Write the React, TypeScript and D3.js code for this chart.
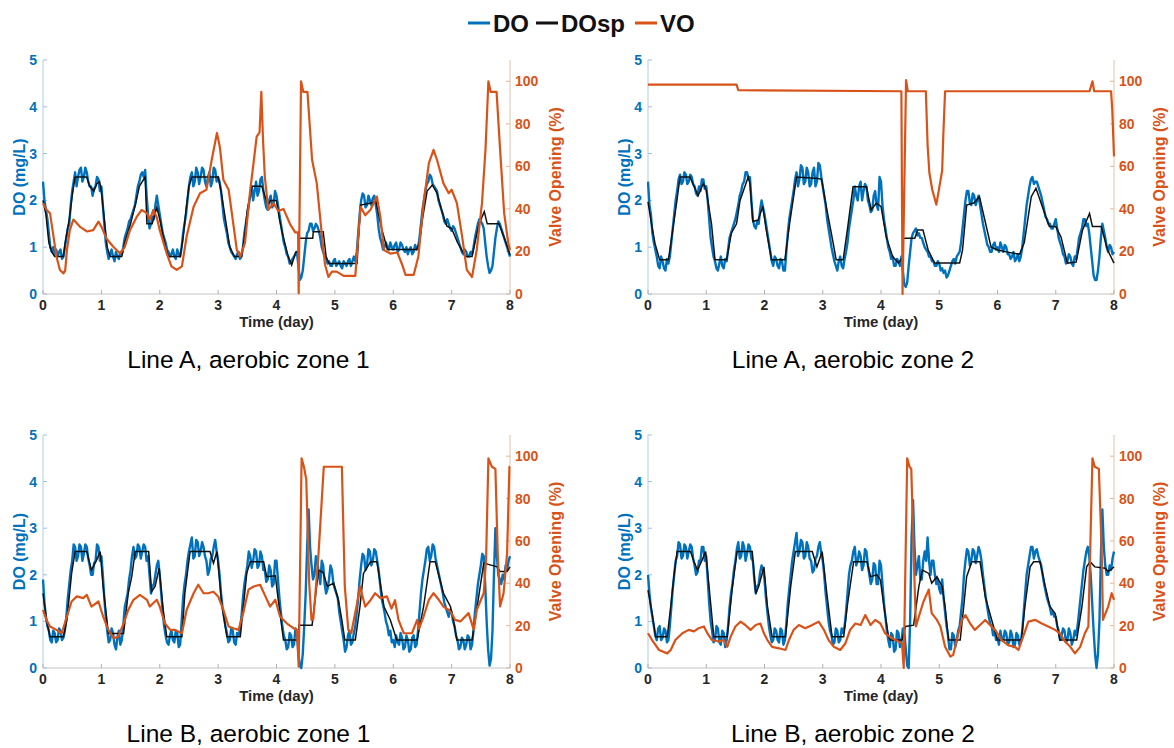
import React from "react";
import * as d3 from "d3";

// ---------- tick labels ----------
const dayTicks = [0, 1, 2, 3, 4, 5, 6, 7, 8];
const doTicks = [0, 1, 2, 3, 4, 5];
const voTicks = [0, 20, 40, 60, 80, 100];

// ---------- DO (mg/L), sampled every 0.025 day from day 0 to day 8 (one row per day) ----------
const doA1 = [
  2.4, 2.0, 1.8, 1.6, 1.3, 1.0, 0.9, 1.0, 0.85, 0.95, 0.8, 0.9, 0.95, 0.75, 0.8, 1.0, 1.2, 1.4, 1.5, 1.9, 2.2, 2.4, 2.6, 2.3, 2.5, 2.65, 2.7, 2.4, 2.5, 2.7, 2.6, 2.4, 2.3, 2.3, 2.1, 2.25, 2.3, 2.5, 2.45, 2.2,
  2.3, 1.9, 1.5, 1.1, 0.9, 0.75, 0.85, 0.95, 0.8, 0.7, 0.9, 0.8, 0.75, 0.9, 0.85, 1.0, 1.2, 1.3, 1.4, 1.55, 1.6, 1.7, 1.8, 1.9, 2.1, 2.3, 2.4, 2.55, 2.6, 2.5, 2.65, 2.1, 1.7, 1.4, 1.5, 1.65, 1.6, 1.9, 2.1, 1.9,
  1.7, 1.5, 1.3, 1.2, 1.1, 0.95, 0.9, 0.8, 0.85, 0.95, 0.8, 0.75, 0.95, 0.85, 0.8, 1.0, 1.3, 1.5, 1.7, 2.0, 2.3, 2.5, 2.6, 2.3, 2.4, 2.7, 2.6, 2.35, 2.5, 2.7, 2.65, 2.4, 2.3, 2.5, 2.6, 2.3, 2.4, 2.7, 2.65, 2.4,
  2.5, 2.4, 2.2, 1.9, 1.6, 1.45, 1.3, 1.1, 1.0, 0.9, 0.85, 0.8, 0.75, 0.85, 0.9, 0.75, 0.8, 1.0, 1.3, 1.5, 1.7, 1.9, 2.1, 2.3, 2.0, 2.2, 2.4, 2.1, 2.2, 2.45, 2.5, 2.2, 2.0, 1.85, 1.8, 2.0, 2.1, 1.85, 1.9, 2.2,
  2.1, 1.9, 1.7, 1.5, 1.3, 1.1, 1.0, 0.85, 0.8, 0.65, 0.7, 0.75, 0.8, 0.85, 0.9, 0.6, 0.3, 0.35, 0.5, 0.8, 1.1, 1.3, 1.35, 1.5, 1.5, 1.35, 1.4, 1.5, 1.45, 1.35, 1.2, 1.0, 0.9, 0.8, 0.75, 0.65, 0.7, 0.6, 0.6, 0.7,
  0.75, 0.6, 0.65, 0.7, 0.6, 0.55, 0.7, 0.65, 0.6, 0.7, 0.75, 0.6, 0.7, 0.8, 0.7, 0.9, 1.3, 1.7, 2.0, 2.15, 2.1, 1.85, 1.9, 2.1, 2.0, 1.9, 2.05, 2.1, 1.9, 1.7, 1.4, 1.2, 1.1, 0.95, 1.0, 1.1, 1.0, 0.95, 1.1, 1.0,
  0.95, 1.05, 1.1, 0.9, 0.95, 1.1, 1.05, 0.95, 0.9, 1.0, 0.85, 0.95, 1.0, 0.85, 0.9, 1.05, 0.95, 1.0, 1.2, 1.5, 1.8, 2.0, 2.2, 2.35, 2.4, 2.55, 2.5, 2.35, 2.3, 2.25, 2.2, 2.0, 1.9, 1.8, 1.7, 1.55, 1.5, 1.6, 1.5, 1.4,
  1.35, 1.45, 1.4, 1.3, 1.2, 1.1, 1.0, 0.9, 0.85, 0.95, 0.9, 0.8, 0.8, 0.9, 0.85, 1.0, 1.2, 1.35, 1.5, 1.6, 1.55, 1.5, 1.4, 1.1, 0.8, 0.6, 0.45, 0.5, 0.6, 0.9, 1.2, 1.4, 1.55, 1.5, 1.4, 1.3, 1.2, 1.1, 1.0, 0.9,
  0.8,
];
const doA2 = [
  2.4, 1.9, 1.7, 1.3, 1.1, 0.95, 0.8, 0.6, 0.55, 0.8, 0.7, 0.55, 0.5, 0.75, 0.65, 0.8, 1.1, 1.4, 1.7, 2.0, 2.2, 2.45, 2.55, 2.35, 2.4, 2.6, 2.55, 2.35, 2.4, 2.55, 2.5, 2.35, 2.3, 2.15, 2.1, 2.3, 2.2, 2.45, 2.45, 2.25,
  2.3, 2.0, 1.6, 1.2, 1.0, 0.8, 0.7, 0.55, 0.5, 0.65, 0.8, 0.6, 0.55, 0.75, 0.7, 0.95, 1.2, 1.3, 1.4, 1.5, 1.6, 1.75, 1.9, 2.1, 2.2, 2.35, 2.4, 2.6, 2.6, 2.45, 2.5, 2.0, 1.6, 1.45, 1.4, 1.55, 1.5, 1.8, 2.0, 1.85,
  1.7, 1.5, 1.3, 1.1, 0.9, 0.7, 0.6, 0.8, 0.75, 0.6, 0.55, 0.75, 0.7, 0.5, 0.5, 0.9, 1.3, 1.6, 1.8, 2.0, 2.2, 2.45, 2.6, 2.3, 2.45, 2.75, 2.7, 2.35, 2.4, 2.7, 2.6, 2.3, 2.35, 2.6, 2.7, 2.3, 2.4, 2.8, 2.75, 2.5,
  2.3, 2.1, 1.9, 1.6, 1.4, 1.2, 1.0, 0.85, 0.7, 0.6, 0.5, 0.7, 0.8, 0.6, 0.55, 0.75, 0.9, 1.1, 1.4, 1.6, 1.8, 2.0, 2.3, 2.1, 2.0, 2.3, 2.4, 2.0, 2.2, 2.35, 2.3, 2.0, 1.9, 1.75, 1.8, 2.1, 2.2, 1.9, 1.8, 2.5,
  2.4, 1.9, 1.6, 1.4, 1.2, 1.0, 0.9, 0.75, 0.8, 0.6, 0.6, 0.75, 0.7, 0.6, 0.8, 0.5, 0.2, 0.15, 0.25, 0.6, 0.9, 1.2, 1.3, 1.35, 1.4, 1.25, 1.3, 1.2, 1.2, 1.1, 1.0, 0.95, 0.9, 0.8, 0.8, 0.7, 0.7, 0.6, 0.6, 0.7,
  0.65, 0.5, 0.55, 0.45, 0.5, 0.35, 0.4, 0.5, 0.6, 0.7, 0.75, 0.65, 0.8, 0.85, 0.9, 1.1, 1.4, 1.7, 2.0, 2.2, 2.2, 1.95, 1.9, 2.15, 2.1, 1.9, 2.0, 2.1, 1.9, 1.7, 1.5, 1.35, 1.2, 1.05, 1.0, 0.9, 0.9, 1.05, 1.1, 0.95,
  1.0, 0.9, 1.1, 1.0, 0.9, 1.05, 1.0, 0.85, 0.85, 0.75, 0.8, 0.9, 0.7, 0.75, 0.85, 0.7, 0.8, 1.0, 1.3, 1.6, 1.9, 2.1, 2.3, 2.45, 2.5, 2.35, 2.4, 2.4, 2.3, 2.2, 2.1, 1.95, 1.8, 1.65, 1.6, 1.5, 1.5, 1.4, 1.4, 1.5,
  1.6, 1.4, 1.2, 1.1, 1.0, 0.85, 0.8, 0.65, 0.7, 0.85, 0.8, 0.65, 0.6, 0.8, 0.75, 0.95, 1.2, 1.3, 1.4, 1.6, 1.6, 1.45, 1.5, 1.3, 1.0, 0.7, 0.4, 0.3, 0.3, 0.5, 0.8, 1.2, 1.5, 1.35, 1.2, 1.0, 0.9, 1.05, 1.0, 0.85,
  0.9,
];
const doB1 = [
  1.9, 1.4, 1.1, 0.9, 0.8, 0.6, 0.55, 0.8, 0.75, 0.55, 0.6, 0.85, 0.8, 0.6, 0.65, 0.8, 1.1, 1.5, 1.8, 2.1, 2.3, 2.65, 2.6, 2.3, 2.4, 2.65, 2.6, 2.3, 2.45, 2.65, 2.6, 2.35, 2.2, 2.0, 2.0, 2.25, 2.3, 2.65, 2.6, 2.3,
  2.4, 2.0, 1.5, 1.1, 0.8, 0.55, 0.6, 0.85, 0.75, 0.5, 0.4, 0.65, 0.8, 0.5, 0.6, 0.9, 1.3, 1.45, 1.6, 1.9, 2.1, 2.4, 2.6, 2.35, 2.4, 2.65, 2.6, 2.35, 2.5, 2.65, 2.6, 2.3, 2.4, 2.0, 1.6, 1.75, 1.8, 2.0, 2.2, 2.3,
  2.0, 1.6, 1.2, 0.9, 0.7, 0.55, 0.5, 0.7, 0.8, 0.6, 0.55, 0.8, 0.75, 0.45, 0.5, 1.0, 1.5, 1.8, 2.0, 2.3, 2.5, 2.65, 2.8, 2.35, 2.4, 2.75, 2.7, 2.4, 2.5, 2.7, 2.6, 2.4, 2.3, 2.0, 2.1, 2.35, 2.4, 2.6, 2.75, 2.5,
  2.3, 2.0, 1.6, 1.3, 1.1, 0.9, 0.75, 0.55, 0.6, 0.85, 0.8, 0.55, 0.5, 0.75, 0.7, 0.85, 1.1, 1.5, 1.8, 2.0, 2.2, 2.5, 2.4, 2.15, 2.3, 2.55, 2.5, 2.15, 2.2, 2.5, 2.4, 2.1, 2.1, 1.85, 1.9, 2.2, 2.1, 1.75, 1.8, 2.3,
  2.3, 1.9, 1.5, 1.2, 0.9, 0.7, 0.6, 0.4, 0.45, 0.75, 0.7, 0.45, 0.5, 0.85, 0.8, 0.3, 0.05, 0.0, 0.3, 0.9, 1.6, 2.6, 3.4, 2.6, 2.2, 1.9, 2.0, 2.4, 2.3, 2.0, 1.8, 2.3, 2.2, 1.8, 1.6, 1.7, 1.9, 2.2, 2.1, 1.8,
  1.7, 1.6, 1.5, 1.2, 1.0, 0.8, 0.6, 0.35, 0.45, 0.7, 0.8, 0.5, 0.55, 0.75, 0.9, 1.2, 1.5, 1.9, 2.2, 2.45, 2.4, 2.1, 2.2, 2.55, 2.5, 2.2, 2.3, 2.55, 2.5, 2.3, 2.1, 1.8, 1.5, 1.35, 1.2, 1.0, 0.9, 0.7, 0.8, 0.55,
  0.6, 0.45, 0.7, 0.55, 0.5, 0.75, 0.65, 0.4, 0.45, 0.7, 0.6, 0.35, 0.4, 0.65, 0.7, 0.45, 0.5, 0.8, 1.2, 1.6, 1.9, 2.1, 2.3, 2.55, 2.6, 2.3, 2.4, 2.65, 2.6, 2.35, 2.2, 2.05, 1.9, 1.75, 1.6, 1.4, 1.3, 1.2, 1.1, 1.25,
  1.2, 1.0, 0.9, 0.7, 0.6, 0.4, 0.45, 0.65, 0.6, 0.4, 0.5, 0.7, 0.65, 0.4, 0.5, 0.8, 1.2, 1.5, 1.8, 2.0, 2.2, 2.45, 2.4, 1.8, 1.0, 0.4, 0.05, 0.2, 0.8, 2.0, 3.0, 2.4, 2.0, 1.9, 1.8, 2.0, 1.9, 2.2, 2.1, 2.3,
  2.4,
];
const doB2 = [
  2.0, 1.6, 1.3, 1.1, 0.9, 0.7, 0.6, 0.85, 0.9, 0.6, 0.65, 0.85, 0.8, 0.55, 0.6, 0.9, 1.3, 1.7, 2.0, 2.3, 2.4, 2.7, 2.65, 2.35, 2.4, 2.65, 2.6, 2.35, 2.5, 2.65, 2.6, 2.35, 2.2, 2.0, 2.05, 2.3, 2.3, 2.6, 2.6, 2.3,
  2.4, 1.9, 1.4, 1.0, 0.8, 0.55, 0.6, 0.9, 0.85, 0.55, 0.5, 0.8, 0.75, 0.45, 0.6, 0.9, 1.3, 1.6, 1.8, 2.1, 2.3, 2.55, 2.7, 2.35, 2.4, 2.7, 2.6, 2.3, 2.45, 2.65, 2.6, 2.35, 2.3, 1.9, 1.6, 1.75, 1.8, 2.05, 2.2, 2.1,
  1.9, 1.5, 1.2, 0.9, 0.7, 0.55, 0.6, 0.85, 0.8, 0.6, 0.55, 0.85, 0.8, 0.5, 0.6, 0.95, 1.4, 1.7, 2.0, 2.3, 2.5, 2.7, 2.9, 2.4, 2.5, 2.75, 2.7, 2.35, 2.4, 2.7, 2.6, 2.35, 2.3, 2.05, 2.1, 2.35, 2.4, 2.6, 2.7, 2.45,
  2.3, 2.0, 1.6, 1.3, 1.0, 0.8, 0.7, 0.5, 0.55, 0.85, 0.8, 0.55, 0.6, 0.85, 0.75, 0.9, 1.2, 1.6, 2.0, 2.2, 2.3, 2.5, 2.6, 2.2, 2.3, 2.5, 2.4, 2.1, 2.2, 2.55, 2.5, 2.2, 2.0, 1.8, 1.9, 2.25, 2.2, 1.8, 1.8, 2.3,
  2.2, 1.8, 1.4, 1.1, 0.8, 0.6, 0.45, 0.75, 0.7, 0.35, 0.4, 0.8, 0.75, 0.45, 0.55, 0.85, 0.8, 0.4, 0.05, 0.0, 1.0, 2.8, 3.6, 2.6, 2.0, 2.2, 2.4, 1.9, 1.9, 2.3, 2.5, 2.3, 2.8, 2.3, 2.0, 2.3, 2.3, 2.0, 1.8, 1.9,
  1.7, 1.6, 1.9, 1.5, 1.2, 0.9, 0.7, 0.4, 0.4, 0.75, 0.7, 0.45, 0.6, 0.8, 0.9, 1.2, 1.5, 2.0, 2.3, 2.55, 2.5, 2.2, 2.3, 2.55, 2.5, 2.25, 2.4, 2.6, 2.5, 2.3, 2.0, 1.75, 1.5, 1.3, 1.1, 0.95, 0.9, 0.7, 0.8, 0.6,
  0.65, 0.5, 0.8, 0.6, 0.6, 0.8, 0.75, 0.5, 0.55, 0.8, 0.7, 0.45, 0.5, 0.75, 0.7, 0.5, 0.55, 0.8, 1.2, 1.6, 2.0, 2.2, 2.4, 2.6, 2.6, 2.35, 2.5, 2.55, 2.4, 2.3, 2.2, 2.0, 1.8, 1.65, 1.5, 1.4, 1.3, 1.15, 1.2, 1.1,
  1.1, 0.9, 0.8, 0.6, 0.7, 0.85, 0.8, 0.55, 0.6, 0.85, 0.75, 0.5, 0.6, 0.8, 0.7, 0.9, 1.2, 1.5, 1.8, 2.1, 2.3, 2.5, 2.6, 2.4, 2.0, 1.4, 0.8, 0.3, 0.0, 0.3, 1.0, 2.4, 3.4, 2.6, 2.2, 2.0, 2.0, 2.2, 2.1, 2.35,
  2.5,
];

// ---------- DO setpoint (day, mg/L) ----------
const spA1 = [
  [0, 2.0], [0.05, 1.7], [0.1, 1.1], [0.15, 0.9], [0.2, 0.8], [0.35, 0.8], [0.38, 1.1], [0.45, 1.6], [0.5, 2.1], [0.55, 2.5],
  [0.75, 2.5], [0.8, 2.3], [0.87, 2.2], [0.92, 2.35], [0.97, 2.4], [1.0, 2.2], [1.05, 1.6], [1.1, 1.0], [1.15, 0.8], [1.35, 0.8],
  [1.4, 1.1], [1.5, 1.5], [1.6, 2.0], [1.65, 2.3], [1.75, 2.5], [1.78, 1.5], [1.87, 1.5], [1.95, 1.85], [2.0, 1.6], [2.05, 1.3],
  [2.1, 1.0], [2.15, 0.8], [2.35, 0.8], [2.4, 1.2], [2.45, 1.8], [2.5, 2.3], [2.55, 2.5], [3.0, 2.5], [3.05, 2.2], [3.1, 1.8],
  [3.15, 1.4], [3.2, 1.0], [3.28, 0.8], [3.4, 0.8], [3.45, 1.2], [3.5, 1.8], [3.58, 2.3], [3.75, 2.3], [3.8, 2.1], [3.85, 1.9],
  [3.9, 2.0], [4.0, 2.0], [4.05, 1.6], [4.1, 1.3], [4.2, 0.8], [4.26, 0.62], [4.33, 0.9], [4.38, 0.9], [4.38, 1.19], [4.62, 1.19],
  [4.63, 1.33], [4.8, 1.33], [4.85, 0.8], [4.9, 0.65], [5.38, 0.65], [5.4, 1.1], [5.44, 1.9], [5.65, 1.95], [5.7, 2.0], [5.8, 1.4],
  [5.9, 0.95], [6.4, 0.95], [6.45, 1.1], [6.5, 1.6], [6.58, 2.2], [6.67, 2.33], [6.75, 2.15], [6.85, 1.7], [6.92, 1.45], [7.0, 1.4],
  [7.1, 1.1], [7.24, 0.8], [7.35, 0.8], [7.4, 1.1], [7.47, 1.5], [7.56, 1.76], [7.61, 1.5], [7.81, 1.5], [7.9, 1.2], [7.96, 1.0],
  [8.0, 0.83],
];
const spA2 = [
  [0, 1.97], [0.06, 1.5], [0.12, 1.08], [0.2, 0.73], [0.35, 0.73], [0.4, 1.15], [0.49, 1.94], [0.55, 2.5], [0.72, 2.5], [0.78, 2.33],
  [0.86, 2.1], [0.95, 2.36], [1.0, 2.22], [1.09, 1.5], [1.15, 0.73], [1.35, 0.73], [1.43, 1.3], [1.52, 1.5], [1.58, 2.0], [1.72, 2.5],
  [1.75, 2.36], [1.8, 1.55], [1.89, 1.58], [1.97, 1.87], [2.03, 1.37], [2.12, 0.73], [2.35, 0.73], [2.43, 1.5], [2.55, 2.5], [2.92, 2.47],
  [2.98, 2.45], [3.06, 1.87], [3.18, 1.08], [3.23, 0.73], [3.35, 0.73], [3.43, 1.44], [3.52, 2.29], [3.75, 2.29], [3.83, 1.8], [3.92, 1.94],
  [4.0, 1.87], [4.09, 1.22], [4.2, 0.8], [4.3, 0.66], [4.38, 0.8], [4.38, 1.19], [4.58, 1.19], [4.63, 1.37], [4.72, 1.37], [4.81, 0.94],
  [4.92, 0.66], [5.35, 0.66], [5.4, 0.94], [5.47, 1.9], [5.6, 1.95], [5.69, 2.08], [5.89, 1.0], [6.0, 0.94], [6.15, 0.9], [6.38, 0.85],
  [6.46, 1.1], [6.58, 2.08], [6.66, 2.26], [6.83, 1.65], [6.89, 1.44], [7.0, 1.44], [7.09, 1.22], [7.2, 0.66], [7.35, 0.68], [7.46, 1.37],
  [7.58, 1.72], [7.63, 1.44], [7.78, 1.44], [7.89, 0.94], [8.0, 0.66],
];
const spB1 = [
  [0, 1.6], [0.06, 1.03], [0.12, 0.67], [0.35, 0.67], [0.41, 1.03], [0.49, 2.03], [0.55, 2.5], [0.75, 2.5], [0.83, 2.1], [0.92, 2.32],
  [0.98, 2.5], [1.03, 1.75], [1.12, 0.74], [1.38, 0.74], [1.46, 1.6], [1.52, 1.96], [1.58, 2.5], [1.81, 2.5], [1.86, 1.64], [1.92, 1.75],
  [1.99, 2.14], [2.06, 1.24], [2.12, 0.67], [2.38, 0.67], [2.43, 1.6], [2.52, 2.5], [2.86, 2.5], [2.92, 2.25], [2.98, 2.5], [3.06, 1.39],
  [3.15, 0.67], [3.38, 0.67], [3.49, 2.03], [3.55, 2.28], [3.78, 2.28], [3.83, 1.96], [3.98, 1.98], [4.03, 1.46], [4.12, 0.6], [4.38, 0.6],
  [4.38, 0.92], [4.61, 0.92], [4.72, 2.1], [4.8, 2.05], [4.87, 1.75], [4.98, 1.82], [5.06, 1.46], [5.12, 1.03], [5.17, 0.6], [5.35, 0.6],
  [5.43, 1.32], [5.49, 2.03], [5.61, 2.28], [5.72, 2.28], [5.84, 1.32], [5.95, 1.03], [6.06, 0.6], [6.41, 0.6], [6.52, 1.32], [6.63, 2.28],
  [6.72, 2.28], [6.86, 1.6], [6.98, 1.32], [7.03, 1.03], [7.09, 0.6], [7.35, 0.6], [7.46, 1.5], [7.55, 2.25], [7.78, 2.17], [7.83, 2.07],
  [7.95, 2.07], [8.0, 2.17],
];
const spB2 = [
  [0, 1.67], [0.07, 1.17], [0.13, 0.67], [0.33, 0.67], [0.39, 1.32], [0.45, 2.03], [0.5, 2.5], [0.73, 2.5], [0.79, 2.28], [0.85, 2.1],
  [0.93, 2.32], [0.99, 2.5], [1.07, 1.46], [1.13, 0.67], [1.36, 0.67], [1.45, 1.75], [1.53, 2.5], [1.79, 2.5], [1.85, 1.6], [1.9, 1.75],
  [1.99, 2.17], [2.05, 1.32], [2.13, 0.67], [2.36, 0.67], [2.45, 1.75], [2.53, 2.5], [2.82, 2.5], [2.9, 2.17], [2.99, 2.5], [3.07, 1.6],
  [3.16, 0.67], [3.36, 0.67], [3.42, 1.32], [3.53, 2.28], [3.76, 2.28], [3.82, 1.96], [3.93, 2.0], [3.99, 1.89], [4.05, 1.32], [4.13, 0.67],
  [4.16, 0.6], [4.36, 0.6], [4.42, 0.89], [4.56, 0.92], [4.65, 1.75], [4.71, 2.1], [4.82, 2.03], [4.87, 1.82], [4.96, 1.96], [5.05, 1.75],
  [5.1, 1.32], [5.16, 0.6], [5.36, 0.6], [5.42, 1.32], [5.47, 1.96], [5.56, 2.28], [5.7, 2.28], [5.79, 1.53], [5.9, 1.03], [6.0, 0.6],
  [6.41, 0.6], [6.47, 1.32], [6.56, 2.17], [6.62, 2.28], [6.73, 2.28], [6.82, 1.75], [6.9, 1.32], [6.99, 1.17], [7.07, 0.6], [7.36, 0.6],
  [7.45, 1.32], [7.53, 2.17], [7.59, 2.28], [7.67, 2.17], [7.85, 2.14], [7.9, 2.07], [8.0, 2.17],
];

// ---------- Valve opening (day, %) ----------
const voA1 = [
  [0, 42.7], [0.06, 39.6], [0.12, 38], [0.18, 27], [0.23, 17.6], [0.29, 11.3], [0.35, 9.7], [0.38, 11], [0.41, 20.7], [0.46, 30],
  [0.52, 35], [0.63, 31.7], [0.75, 29.4], [0.86, 30], [0.95, 34], [1.0, 31.7], [1.09, 26], [1.2, 22.3], [1.32, 19], [1.4, 22],
  [1.49, 30], [1.6, 36], [1.69, 39.5], [1.78, 38], [1.83, 35], [1.89, 39.5], [1.95, 36], [2.0, 30], [2.12, 19], [2.2, 13],
  [2.29, 11.3], [2.38, 13], [2.46, 27], [2.58, 41], [2.69, 47.4], [2.8, 49], [2.89, 63], [2.98, 75.7], [3.03, 69], [3.09, 53.7],
  [3.18, 49], [3.26, 33], [3.32, 20.7], [3.38, 17.6], [3.46, 24], [3.55, 49], [3.6, 60], [3.66, 74], [3.71, 76], [3.74, 95],
  [3.77, 72], [3.8, 55], [3.86, 39.6], [3.95, 42.7], [4.03, 39], [4.12, 40], [4.23, 33], [4.32, 29], [4.37, 29], [4.38, 0.3],
  [4.42, 100], [4.46, 95], [4.53, 95], [4.61, 63], [4.69, 52], [4.78, 27], [4.83, 14], [4.89, 8], [4.95, 10.5], [5.03, 10.5],
  [5.15, 8.5], [5.35, 8.5], [5.44, 41], [5.52, 37], [5.61, 39.6], [5.72, 45.8], [5.78, 36], [5.84, 20.7], [5.95, 19], [6.07, 19.5],
  [6.15, 14], [6.21, 9], [6.35, 9], [6.43, 17.6], [6.52, 42.7], [6.61, 61.5], [6.69, 67.8], [6.75, 63], [6.86, 52], [6.95, 47.4],
  [7.0, 49], [7.09, 42.7], [7.18, 27], [7.26, 11.3], [7.35, 8], [7.43, 20.7], [7.52, 42.7], [7.58, 67.8], [7.63, 100], [7.67, 95],
  [7.77, 95], [7.83, 68], [7.9, 38], [7.97, 24], [8.0, 20.7],
];
const voA2 = [
  [0, 98.4], [1.52, 98.4], [1.55, 95.8], [4.35, 95.3], [4.37, 0], [4.43, 100.5], [4.46, 95.3], [4.77, 95.3], [4.8, 70], [4.83, 57],
  [4.88, 49], [4.95, 42], [5.0, 50], [5.05, 58], [5.07, 75], [5.1, 95.3], [7.58, 95.3], [7.63, 100], [7.66, 95.3], [7.95, 95.3],
  [7.97, 86.7], [8.0, 64.7],
];
const voB1 = [
  [0, 27.4], [0.06, 22.7], [0.12, 19.6], [0.23, 18], [0.32, 16.4], [0.41, 24.3], [0.49, 31.4], [0.58, 33.8], [0.69, 33], [0.75, 34.5],
  [0.83, 29], [0.95, 31.4], [1.03, 24.3], [1.12, 18], [1.21, 14], [1.29, 14.8], [1.38, 21], [1.46, 27.4], [1.55, 32.2], [1.66, 34.5],
  [1.78, 32.2], [1.83, 29], [1.95, 32.2], [2.0, 29], [2.09, 21], [2.18, 18], [2.26, 18], [2.38, 16.4], [2.46, 27.4], [2.58, 35.3],
  [2.66, 39.3], [2.75, 35.3], [2.83, 35.3], [2.92, 36], [3.0, 33.8], [3.09, 27.4], [3.18, 19.6], [3.26, 18.8], [3.35, 18], [3.43, 25.9],
  [3.52, 37], [3.61, 38.5], [3.72, 39.3], [3.81, 33.8], [3.89, 29], [3.98, 32.2], [4.06, 24.3], [4.18, 21], [4.29, 18.8], [4.35, 18],
  [4.38, 0.6], [4.43, 99], [4.47, 95], [4.51, 89], [4.56, 40], [4.6, 22.7], [4.63, 23], [4.66, 33], [4.72, 54], [4.81, 95],
  [5.12, 95], [5.17, 38.5], [5.23, 18], [5.28, 16.4], [5.37, 29], [5.43, 38.5], [5.52, 29], [5.61, 32], [5.69, 35.3], [5.78, 33],
  [5.89, 33.8], [5.97, 28], [6.03, 32], [6.09, 22.7], [6.18, 16.4], [6.32, 16.4], [6.41, 22.7], [6.44, 18.5], [6.52, 24.3], [6.61, 32.2],
  [6.69, 35.3], [6.78, 32.2], [6.86, 29], [6.95, 27.4], [7.0, 25.9], [7.06, 22.7], [7.15, 22], [7.29, 25.9], [7.38, 18], [7.43, 27.4],
  [7.49, 31.4], [7.55, 35.3], [7.59, 51], [7.63, 99], [7.69, 95], [7.75, 94], [7.79, 54], [7.83, 29], [7.89, 35.3], [7.95, 54],
  [7.99, 95], [8.0, 95],
];
const voB2 = [
  [0, 16.4], [0.07, 13.2], [0.19, 8.5], [0.33, 6.9], [0.39, 8.5], [0.47, 13.2], [0.59, 16.4], [0.7, 18], [0.79, 17.3], [0.87, 18.8],
  [0.96, 19.6], [1.02, 16.4], [1.1, 13.2], [1.22, 12.5], [1.3, 13.2], [1.36, 10], [1.42, 14.8], [1.5, 19.6], [1.59, 21.9], [1.67, 20.3],
  [1.76, 18], [1.85, 20.3], [1.93, 21], [1.99, 16.4], [2.05, 13.2], [2.13, 10], [2.25, 9.3], [2.36, 8.5], [2.42, 13.2], [2.5, 18],
  [2.59, 20.3], [2.7, 18.8], [2.82, 20.3], [2.93, 21.9], [3.02, 18], [3.1, 13.2], [3.19, 10], [3.3, 8.5], [3.39, 11.7], [3.47, 18],
  [3.56, 21], [3.65, 20.3], [3.73, 25], [3.82, 20.3], [3.9, 22.7], [3.99, 21], [4.07, 16.4], [4.19, 14], [4.3, 12.5], [4.36, 11.7],
  [4.39, 0], [4.45, 99], [4.49, 95], [4.52, 94], [4.56, 54], [4.6, 19.6], [4.65, 24.3], [4.73, 31.4], [4.82, 37], [4.87, 25.9],
  [4.96, 22.7], [5.02, 19.6], [5.1, 10], [5.19, 5.4], [5.24, 6.2], [5.3, 13.2], [5.39, 22.7], [5.45, 25], [5.53, 21], [5.61, 18],
  [5.7, 20.3], [5.79, 22.7], [5.87, 20.3], [5.96, 18], [6.07, 13.2], [6.19, 10.7], [6.3, 10], [6.36, 8.5], [6.44, 14.8], [6.53, 21.9],
  [6.65, 22.7], [6.76, 21], [6.87, 19.6], [6.99, 18], [7.07, 16.4], [7.16, 12.5], [7.25, 10], [7.33, 6.9], [7.42, 10], [7.5, 16.4],
  [7.56, 19.6], [7.59, 54], [7.63, 99], [7.67, 95], [7.74, 94], [7.79, 54], [7.81, 22.7], [7.9, 29], [7.96, 35.3], [8.0, 32.2],
];

const titles = ["Line A, aerobic zone 1", "Line A, aerobic zone 2", "Line B, aerobic zone 1", "Line B, aerobic zone 2"];
const legendNames = ["DO", "DOsp", "VO"];

// ---------- styling ----------
const BLUE = "#0072BD";
const ORANGE = "#D95319";
const FONT = "'Liberation Sans', Arial, Helvetica, sans-serif";

const layout = [
  { left: 43, right: 510, top: 60, bottom: 294, titleY: 368 },
  { left: 648, right: 1114, top: 60, bottom: 294, titleY: 368 },
  { left: 43, right: 510, top: 435, bottom: 668, titleY: 742 },
  { left: 648, right: 1114, top: 435, bottom: 668, titleY: 742 },
];
const panelData = [
  { d: doA1, sp: spA1, vo: voA1 },
  { d: doA2, sp: spA2, vo: voA2 },
  { d: doB1, sp: spB1, vo: voB1 },
  { d: doB2, sp: spB2, vo: voB2 },
];

function Panel({ idx }: { idx: number }) {
  const L = layout[idx];
  const P = panelData[idx];
  const x = d3.scaleLinear().domain([0, 8]).range([L.left, L.right]);
  const yL = d3.scaleLinear().domain([0, 5]).range([L.bottom, L.top]);
  const yR = d3.scaleLinear().domain([0, 110]).range([L.bottom, L.top]);
  const step = 8 / (P.d.length - 1);
  const doPts = P.d.map((v, i) => [i * step, v] as [number, number]);
  const lineL = d3.line<[number, number]>().x((d) => x(d[0])).y((d) => yL(d[1]));
  const lineR = d3.line<[number, number]>().x((d) => x(d[0])).y((d) => yR(d[1]));
  const clipId = `clip${idx}`;
  const cx = (L.left + L.right) / 2;
  const cy = (L.top + L.bottom) / 2;
  return (
    <g>
      <defs>
        <clipPath id={clipId}>
          <rect x={L.left - 1} y={L.top - 2} width={L.right - L.left + 2} height={L.bottom - L.top + 4} />
        </clipPath>
      </defs>
      {/* axes */}
      <line x1={L.left} x2={L.right} y1={L.bottom} y2={L.bottom} stroke="#c4c4c4" strokeWidth={1} />
      <line x1={L.left} x2={L.left} y1={L.top} y2={L.bottom} stroke="#b3cde3" strokeWidth={1} />
      <line x1={L.right} x2={L.right} y1={L.top} y2={L.bottom} stroke="#e8c2a8" strokeWidth={1} />
      {dayTicks.map((t) => (
        <g key={"x" + t}>
          <line x1={x(t)} x2={x(t)} y1={L.bottom} y2={L.bottom - 4} stroke="#b0b0b0" />
          <text x={x(t)} y={L.bottom + 16} textAnchor="middle" fontSize={14} fontWeight="bold" fill="#262626" fontFamily={FONT}>
            {t}
          </text>
        </g>
      ))}
      {doTicks.map((t) => (
        <g key={"l" + t}>
          <line x1={L.left} x2={L.left + 4} y1={yL(t)} y2={yL(t)} stroke="#9fbfdc" />
          <text x={L.left - 6} y={yL(t)} dy="0.36em" textAnchor="end" fontSize={14} fontWeight="bold" fill={BLUE} fontFamily={FONT}>
            {t}
          </text>
        </g>
      ))}
      {voTicks.map((t) => (
        <g key={"r" + t}>
          <line x1={L.right} x2={L.right - 4} y1={yR(t)} y2={yR(t)} stroke="#e3b596" />
          <text x={L.right + 5} y={yR(t)} dy="0.36em" textAnchor="start" fontSize={14} fontWeight="bold" fill={ORANGE} fontFamily={FONT}>
            {t}
          </text>
        </g>
      ))}
      {/* series */}
      <g clipPath={`url(#${clipId})`}>
        <path d={lineL(doPts) || ""} fill="none" stroke={BLUE} strokeWidth={2.4} strokeLinejoin="round" />
        <path d={lineL(P.sp as [number, number][]) || ""} fill="none" stroke="#111" strokeWidth={1.5} />
        <path d={lineR(P.vo as [number, number][]) || ""} fill="none" stroke={ORANGE} strokeWidth={2.2} strokeLinejoin="round" />
      </g>
      {/* labels */}
      <text x={cx} y={L.bottom + 33} textAnchor="middle" fontSize={15} fontWeight="bold" fill="#262626" fontFamily={FONT}>
        Time (day)
      </text>
      <text transform={`translate(${L.left - 18},${cy}) rotate(-90)`} textAnchor="middle" fontSize={16} fontWeight="bold" fill={BLUE} fontFamily={FONT}>
        DO (mg/L)
      </text>
      <text transform={`translate(${L.right + 51},${cy}) rotate(-90)`} textAnchor="middle" fontSize={16} fontWeight="bold" fill={ORANGE} fontFamily={FONT}>
        Valve Opening (%)
      </text>
      <text x={cx - 28} y={L.titleY} textAnchor="middle" fontSize={24.5} fill="#000" fontFamily={FONT}>
        {titles[idx]}
      </text>
    </g>
  );
}

export default function App() {
  const legendColors = [BLUE, "#111", ORANGE];
  const legendX = [468, 536, 635];
  return (
    <svg width={1174} height={748} style={{ position: "absolute", left: 0, top: 0, background: "#fff" }}>
      <rect width={1174} height={748} fill="#fff" />
      {legendNames.map((n, i) => (
        <g key={n}>
          <line x1={legendX[i]} x2={legendX[i] + 22} y1={23} y2={23} stroke={legendColors[i]} strokeWidth={3} />
          <text x={legendX[i] + 25} y={32} fontSize={24} fontWeight="bold" fill="#111" fontFamily={FONT}>
            {n}
          </text>
        </g>
      ))}
      {[0, 1, 2, 3].map((i) => (
        <Panel key={i} idx={i} />
      ))}
    </svg>
  );
}
